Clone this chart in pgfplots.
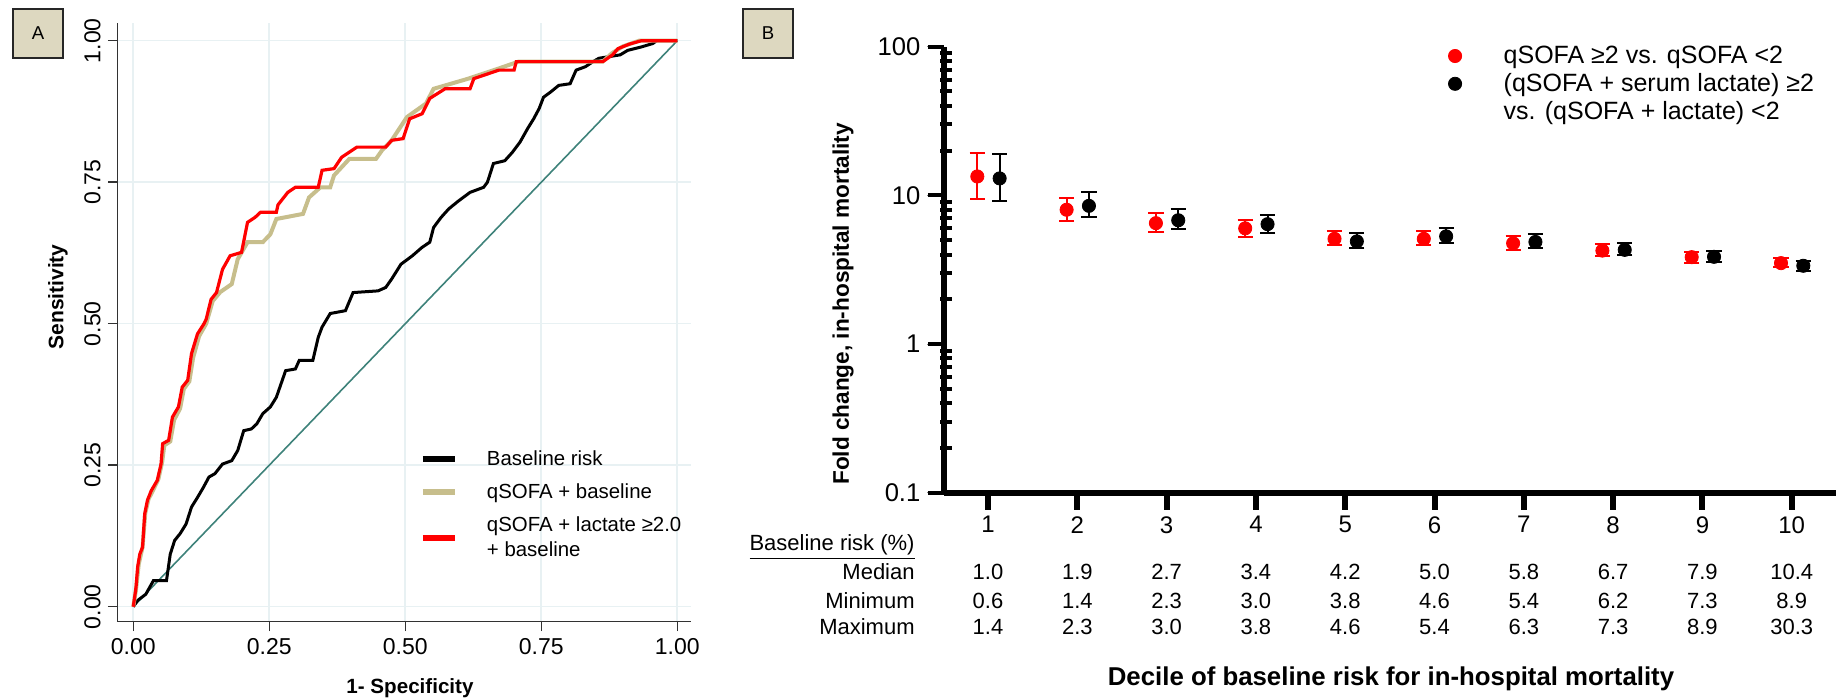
\documentclass[border=0pt]{standalone}
\usepackage{fontspec}
\setmainfont{Liberation Sans}
\usepackage{pgfplots}
\usepackage{pgfplotstable}
\pgfplotsset{compat=1.18}

\definecolor{rocred}{RGB}{255,0,0}
\definecolor{roctan}{RGB}{199,190,140}
\definecolor{rocteal}{RGB}{62,130,122}
\definecolor{gridcol}{RGB}{232,241,243}
\definecolor{axisgray}{RGB}{50,50,50}
\definecolor{boxfill}{RGB}{221,216,192}

% ROC curves, (1-specificity, sensitivity)
\pgfplotstableread{
fpr tpr
0 0
0.005 0.034
0.008 0.070
0.012 0.093
0.017 0.105
0.021 0.164
0.026 0.188
0.033 0.205
0.044 0.223
0.051 0.252
0.054 0.288
0.065 0.294
0.072 0.335
0.083 0.353
0.090 0.388
0.100 0.400
0.107 0.447
0.118 0.482
0.130 0.500
0.134 0.508
0.143 0.543
0.153 0.555
0.164 0.596
0.178 0.620
0.199 0.626
0.210 0.679
0.224 0.688
0.234 0.697
0.263 0.697
0.266 0.710
0.284 0.732
0.298 0.741
0.340 0.741
0.347 0.771
0.369 0.774
0.383 0.794
0.397 0.803
0.411 0.812
0.464 0.812
0.475 0.824
0.496 0.827
0.508 0.862
0.531 0.871
0.545 0.898
0.573 0.915
0.619 0.915
0.626 0.933
0.672 0.948
0.700 0.948
0.704 0.963
0.863 0.963
0.881 0.975
0.891 0.986
0.912 0.994
0.934 1.000
1.000 1.000
}\rocLact

\pgfplotstableread{
fpr tpr
0 0
0.005 0.030
0.010 0.075
0.017 0.105
0.022 0.165
0.028 0.190
0.036 0.205
0.046 0.225
0.053 0.255
0.057 0.285
0.068 0.292
0.075 0.330
0.086 0.350
0.093 0.385
0.103 0.398
0.110 0.440
0.121 0.478
0.134 0.500
0.146 0.540
0.160 0.556
0.181 0.570
0.192 0.614
0.210 0.644
0.238 0.644
0.252 0.658
0.263 0.685
0.312 0.694
0.323 0.723
0.344 0.741
0.362 0.741
0.369 0.762
0.397 0.791
0.446 0.791
0.457 0.806
0.475 0.824
0.503 0.865
0.538 0.889
0.552 0.915
0.616 0.933
0.672 0.951
0.708 0.963
0.863 0.963
0.880 0.978
0.900 0.990
0.930 1.000
1.000 1.000
}\rocQsofa

\pgfplotstableread{
fpr tpr
0 0
0.008 0.011
0.023 0.022
0.037 0.046
0.061 0.046
0.068 0.093
0.076 0.117
0.086 0.129
0.097 0.146
0.107 0.176
0.118 0.193
0.129 0.211
0.139 0.229
0.150 0.235
0.164 0.252
0.181 0.258
0.192 0.276
0.203 0.311
0.217 0.314
0.227 0.323
0.238 0.341
0.252 0.353
0.263 0.370
0.280 0.417
0.298 0.420
0.305 0.435
0.330 0.435
0.340 0.476
0.347 0.494
0.362 0.518
0.390 0.523
0.404 0.555
0.450 0.558
0.464 0.564
0.475 0.579
0.492 0.605
0.513 0.620
0.531 0.635
0.545 0.644
0.552 0.670
0.566 0.688
0.580 0.703
0.598 0.717
0.619 0.732
0.644 0.741
0.651 0.750
0.662 0.783
0.683 0.788
0.697 0.803
0.711 0.821
0.725 0.845
0.736 0.862
0.746 0.880
0.754 0.900
0.768 0.910
0.782 0.921
0.803 0.924
0.814 0.948
0.831 0.954
0.845 0.963
0.856 0.969
0.895 0.975
0.909 0.983
0.934 0.989
0.955 0.995
0.962 1.000
1.000 1.000
}\rocBase

% fold change by decile: red = qSOFA, black = qSOFA + lactate
\pgfplotstableread{
d xr xb r rp rm b bp bm
1 0.88 1.13 13.4 5.8 3.9 13.0 6.1 3.9
2 1.88 2.13 8.0 1.65 1.3 8.5 2.0 1.4
3 2.88 3.13 6.5 1.1 0.8 6.8 1.3 0.9
4 3.88 4.13 6.0 0.8 0.75 6.4 1.0 0.8
5 4.88 5.13 5.1 0.7 0.5 4.9 0.7 0.45
6 5.88 6.13 5.1 0.7 0.5 5.3 0.7 0.5
7 6.88 7.13 4.76 0.54 0.46 4.86 0.64 0.46
8 7.88 8.13 4.25 0.45 0.35 4.3 0.45 0.35
9 8.88 9.13 3.84 0.33 0.32 3.86 0.34 0.29
10 9.88 10.13 3.5 0.3 0.22 3.36 0.27 0.25
}\fold

\begin{document}
\begin{tikzpicture}
\useasboundingbox (0,0) rectangle (918pt,349.5pt);

% panel tags
\draw[fill=boxfill, draw=black!85, line width=1.3pt] (6.5pt,320.5pt) rectangle (31.5pt,345pt);
\node[font=\fontsize{9.3}{11}\selectfont] at (19pt,332.8pt) {A};
\draw[fill=boxfill, draw=black!85, line width=1.3pt] (371.5pt,320.5pt) rectangle (396.5pt,345pt);
\node[font=\fontsize{9.3}{11}\selectfont] at (384pt,332.8pt) {B};

% ---------------- panel A
\begin{axis}[
    at={(58.65pt,38.65pt)}, anchor=south west,
    scale only axis, width=286.85pt, height=299.35pt,
    xmin=-0.0294, xmax=1.0252, ymin=-0.0265, ymax=1.0313,
    axis x line*=bottom, axis y line*=left,
    axis line style={line width=0.8pt, draw=axisgray, -},
    xtick={0,0.25,0.5,0.75,1}, ytick={0,0.25,0.5,0.75,1},
    xticklabels={0.00,0.25,0.50,0.75,1.00},
    yticklabels={0.00,0.25,0.50,0.75,1.00},
    tick align=outside, major tick length=4.8pt,
    grid=major, grid style={line width=0.8pt, draw=gridcol},
    ticklabel style={font=\fontsize{11.5}{13}\selectfont},
    /pgf/number format/assume math mode=true,
    yticklabel style={rotate=90, anchor=south},
    legend style={at={(axis cs:0.527,0.276)}, anchor=north west,
        draw=none, fill=none, inner sep=0pt, outer sep=0pt,
        font=\fontsize{10.2}{12.5}\selectfont,
        row sep=7.6pt, column sep=14.5pt,
        nodes={inner sep=0pt}, cells={anchor=west, align=left}},
    legend image code/.code={\draw[#1, line width=3pt] (0pt,0pt) -- (16pt,0pt);},
]
\addplot[rocteal, line width=0.8pt, forget plot] coordinates {(0,0) (1,1)};
\addplot[black, line width=1.5pt] table[x=fpr, y=tpr] {\rocBase};
\addplot[roctan, line width=2pt] table[x=fpr, y=tpr] {\rocQsofa};
\addplot[rocred, line width=1.6pt] table[x=fpr, y=tpr] {\rocLact};
\legend{Baseline risk, qSOFA + baseline, {qSOFA + lactate ≥2.0\\+ baseline}}
\end{axis}
% dark tick strokes of panel A
\foreach \t in {0,0.25,0.5,0.75,1} {
  \pgfmathsetmacro{\xx}{66.65+\t*272}
  \pgfmathsetmacro{\yy}{46.15+\t*283}
  \draw[axisgray, line width=0.7pt] (\xx pt,38.65pt) -- (\xx pt,33.85pt);
  \draw[axisgray, line width=0.7pt] (58.65pt,\yy pt) -- (53.85pt,\yy pt);
}
\node[font=\bfseries\fontsize{10.5}{12}\selectfont, rotate=90] at (29pt,201pt) {Sensitivity};
\node[font=\bfseries\fontsize{10.3}{12}\selectfont] at (205pt,5.5pt) {1- Specificity};

% ---------------- panel B
\begin{axis}[
    at={(472pt,103.15pt)}, anchor=south west,
    scale only axis, width=446pt, height=223pt,
    ymode=log, xmin=0.507, xmax=10.496, ymin=0.1, ymax=100,
    axis x line*=bottom, axis y line*=left,
    axis line style={line width=3pt, black, -},
    xtick={1,2,3,4,5,6,7,8,9,10},
    ytick={0.1,1,10,100}, yticklabels={0.1,1,10,100},
    tick align=outside, major tick length=8.3pt, minor tick length=0pt,
    xticklabel style={font=\fontsize{12}{14}\selectfont},
    yticklabel style={font=\fontsize{12.8}{14}\selectfont},
    /pgf/number format/assume math mode=true,
    legend style={at={(axis description cs:0.5538,1.002)}, anchor=north west,
        draw=none, fill=none, inner sep=0pt, outer sep=0pt,
        font=\fontsize{12.5}{14}\selectfont,
        row sep=3.5pt, column sep=21pt,
        nodes={inner sep=0pt}, cells={anchor=west}},
]
\addplot[only marks, mark=*, mark size=3.3pt, color=rocred,
    error bars/.cd, y dir=both, y explicit,
    error bar style={line width=1pt, rocred},
    error mark options={rotate=90, mark size=3.8pt, line width=1pt, rocred}]
    table[x=xr, y=r, y error plus=rp, y error minus=rm] {\fold};
\addplot[only marks, mark=*, mark size=3.3pt, color=black,
    error bars/.cd, y dir=both, y explicit,
    error bar style={line width=1pt, black},
    error mark options={rotate=90, mark size=3.8pt, line width=1pt, black}]
    table[x=xb, y=b, y error plus=bp, y error minus=bm] {\fold};
\addlegendentry{qSOFA ≥2 vs. qSOFA <2}
\addlegendentry{(qSOFA + serum lactate) ≥2}
\addlegendimage{empty legend}
\addlegendentry{vs. (qSOFA + lactate) <2}
\end{axis}
% heavy GraphPad-style ticks of panel B
\foreach \i in {1,...,10} {
  \pgfmathsetmacro{\xx}{494+(\i-1)*44.65}
  \draw[black, line width=3pt] (\xx pt,103.15pt) -- (\xx pt,94.6pt);
}
\foreach \k in {0,1,2,3} {
  \pgfmathsetmacro{\yy}{103.15+\k*74.3333}
  \draw[black, line width=2pt] (472pt,\yy pt) -- (463.8pt,\yy pt);
}
\foreach \k in {0,1,2} {
  \foreach \m in {2,...,9} {
    \pgfmathsetmacro{\yy}{103.15+(\k+log10(\m))*74.3333}
    \draw[black, line width=2pt] (470pt,\yy pt) -- (476pt,\yy pt);
  }
}
\node[font=\bfseries\fontsize{11.3}{13}\selectfont, rotate=90] at (421.5pt,197.5pt) {Fold change, in-hospital mortality};
\node[font=\bfseries\fontsize{12.9}{14}\selectfont] at (695.5pt,10pt) {Decile of baseline risk for in-hospital mortality};

% baseline risk table under the deciles
\begin{scope}[every node/.style={inner sep=0pt, font=\fontsize{11}{13}\selectfont}]
\node[anchor=base east] at (457.5pt,74pt) {\underline{Baseline risk (\%)}};
\node[anchor=base east] at (457.5pt,59.5pt) {Median};
\node[anchor=base east] at (457.5pt,45.3pt) {Minimum};
\node[anchor=base east] at (457.5pt,32pt) {Maximum};
\foreach \i/\md/\mn/\mx in {1/1.0/0.6/1.4, 2/1.9/1.4/2.3, 3/2.7/2.3/3.0, 4/3.4/3.0/3.8, 5/4.2/3.8/4.6, 6/5.0/4.6/5.4, 7/5.8/5.4/6.3, 8/6.7/6.2/7.3, 9/7.9/7.3/8.9, 10/10.4/8.9/30.3} {
  \pgfmathsetmacro{\xx}{494+(\i-1)*44.65}
  \node[anchor=base] at (\xx pt,59.5pt) {\md};
  \node[anchor=base] at (\xx pt,45.3pt) {\mn};
  \node[anchor=base] at (\xx pt,32pt) {\mx};
}
\end{scope}
\end{tikzpicture}
\end{document}
